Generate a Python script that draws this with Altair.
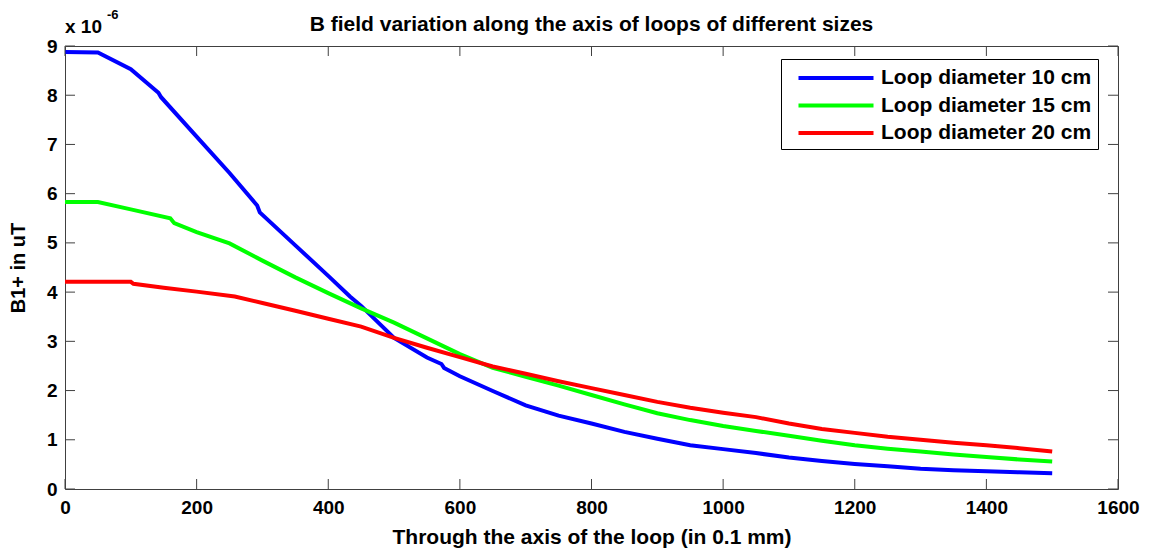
import altair as alt
import pandas as pd

series_names = ["Loop diameter 10 cm", "Loop diameter 15 cm", "Loop diameter 20 cm"]
series_colors = ["#0000ff", "#00ff00", "#ff0000"]

x_blue = [0, 50, 100, 142, 146, 200, 250, 292, 296, 350, 400, 433, 450, 500, 550, 572, 576, 600, 650,
          700, 750, 800, 850, 900, 950, 1000, 1050, 1100, 1150, 1200, 1250, 1300, 1350, 1400, 1450, 1500]
y_blue = [8.88, 8.87, 8.53, 8.05, 7.96, 7.16, 6.42, 5.76, 5.62, 4.95, 4.33, 3.91, 3.72, 3.07, 2.67, 2.54, 2.46,
          2.29, 1.99, 1.70, 1.49, 1.33, 1.16, 1.02, 0.89, 0.81, 0.73, 0.64, 0.57, 0.51, 0.46, 0.41, 0.38,
          0.36, 0.34, 0.32]

x_green = [0, 50, 100, 160, 166, 200, 250, 300, 350, 400, 450, 500, 550, 600, 650, 700, 750, 800, 850,
           900, 950, 1000, 1050, 1100, 1150, 1200, 1250, 1300, 1350, 1400, 1450, 1500]
y_green = [5.83, 5.83, 5.68, 5.50, 5.40, 5.22, 4.99, 4.64, 4.30, 3.98, 3.67, 3.38, 3.06, 2.74, 2.46, 2.28,
           2.10, 1.91, 1.72, 1.54, 1.40, 1.28, 1.18, 1.08, 0.98, 0.89, 0.82, 0.76, 0.70, 0.65, 0.60, 0.56]

x_red = [0, 50, 100, 104, 150, 200, 258, 300, 350, 400, 450, 500, 550, 600, 650, 700, 750, 800, 850,
         900, 950, 1000, 1050, 1100, 1150, 1200, 1250, 1300, 1350, 1400, 1450, 1500]
y_red = [4.21, 4.21, 4.21, 4.17, 4.09, 4.01, 3.91, 3.78, 3.62, 3.46, 3.30, 3.07, 2.87, 2.68, 2.49, 2.34,
         2.19, 2.05, 1.91, 1.77, 1.65, 1.55, 1.46, 1.33, 1.22, 1.14, 1.06, 1.00, 0.94, 0.89, 0.83, 0.76]

x_ticks = [0, 200, 400, 600, 800, 1000, 1200, 1400, 1600]
y_ticks = [0, 1, 2, 3, 4, 5, 6, 7, 8, 9]

title_text = ["B field variation along the axis of loops of different sizes"]
x_title = "Through the axis of the loop (in 0.1 mm)"
y_title = "B1+ in uT"
exp_base = ["x 10"]
exp_power = ["-6"]

rows = []
for name, xs, ys in zip(series_names, [x_blue, x_green, x_red], [y_blue, y_green, y_red]):
    for xv, yv in zip(xs, ys):
        rows.append({"series": name, "x": xv, "y": yv})
df = pd.DataFrame(rows)
xt_df = pd.DataFrame({"x": x_ticks})
yt_df = pd.DataFrame({"y": y_ticks})

FONT = "Liberation Sans"
AX = "#404040"
W, H = 1053, 443
TL = 10

xscale = alt.Scale(domain=[0, 1600], nice=False, zero=False)
yscale = alt.Scale(domain=[0, 9], nice=False, zero=False)

lines = alt.Chart(df).mark_line(strokeWidth=4).encode(
    x=alt.X("x:Q", scale=xscale, axis=alt.Axis(
        orient="bottom", values=x_ticks, format="d", title=x_title, ticks=False, tickSize=0, domain=False,
        grid=False, labelFont=FONT, labelFontSize=19, labelFontWeight="bold", labelColor="black",
        labelPadding=9, labelFlush=False, labelOverlap=False,
        titleFont=FONT, titleFontSize=21, titleFontWeight="bold", titleColor="black", titlePadding=9)),
    y=alt.Y("y:Q", scale=yscale, axis=alt.Axis(
        orient="left", values=y_ticks, format="d", title=y_title, ticks=False, tickSize=0, domain=False,
        grid=False, labelFont=FONT, labelFontSize=19, labelFontWeight="bold", labelColor="black",
        labelPadding=8, labelOverlap=False,
        titleFont=FONT, titleFontSize=20, titleFontWeight="bold", titleColor="black", titlePadding=18)),
    color=alt.Color("series:N", scale=alt.Scale(domain=series_names, range=series_colors),
                    legend=alt.Legend(
                        title=None, orient="none", legendX=716, legendY=13,
                        symbolType="M-3.41,0H3.41", symbolSize=484, symbolStrokeWidth=4,
                        symbolOffset=36, labelOffset=32,
                        labelFont=FONT, labelFontSize=21, labelFontWeight="bold", labelColor="black",
                        labelLimit=600, strokeColor="black", fillColor="white", padding=6,
                        rowPadding=4.5, cornerRadius=0)),
    order="x:Q",
)

tick_style = dict(color=AX, strokeWidth=1)
xt_bottom = alt.Chart(xt_df).mark_rule(**tick_style).encode(
    x=alt.X("x:Q", scale=xscale), y=alt.value(H), y2=alt.value(H - TL))
xt_top = alt.Chart(xt_df).mark_rule(**tick_style).encode(
    x=alt.X("x:Q", scale=xscale), y=alt.value(0), y2=alt.value(TL))
yt_left = alt.Chart(yt_df).mark_rule(**tick_style).encode(
    y=alt.Y("y:Q", scale=yscale), x=alt.value(0), x2=alt.value(TL))
yt_right = alt.Chart(yt_df).mark_rule(**tick_style).encode(
    y=alt.Y("y:Q", scale=yscale), x=alt.value(W - TL), x2=alt.value(W))

title_mark = alt.Chart(pd.DataFrame({"t": title_text})).mark_text(
    font=FONT, fontSize=21, fontWeight="bold", color="black", align="center", baseline="alphabetic"
).encode(text="t:N", x=alt.value(W / 2), y=alt.value(-15))

exp1 = alt.Chart(pd.DataFrame({"t": exp_base})).mark_text(
    font=FONT, fontSize=19, fontWeight="bold", color="black", align="left", baseline="alphabetic"
).encode(text="t:N", x=alt.value(0), y=alt.value(-13))
exp2 = alt.Chart(pd.DataFrame({"t": exp_power})).mark_text(
    font=FONT, fontSize=13, fontWeight="bold", color="black", align="left", baseline="alphabetic"
).encode(text="t:N", x=alt.value(42), y=alt.value(-27))

chart = alt.layer(
    lines, xt_bottom, xt_top, yt_left, yt_right, title_mark, exp1, exp2
).properties(
    width=W, height=H,
    padding={"left": 57, "top": 38, "right": 24, "bottom": 59},
    autosize=alt.AutoSizeParams(type="none"),
).configure_view(stroke=AX, strokeWidth=1)

chart.save("out.html", embed_options={"renderer": "svg", "actions": False})
